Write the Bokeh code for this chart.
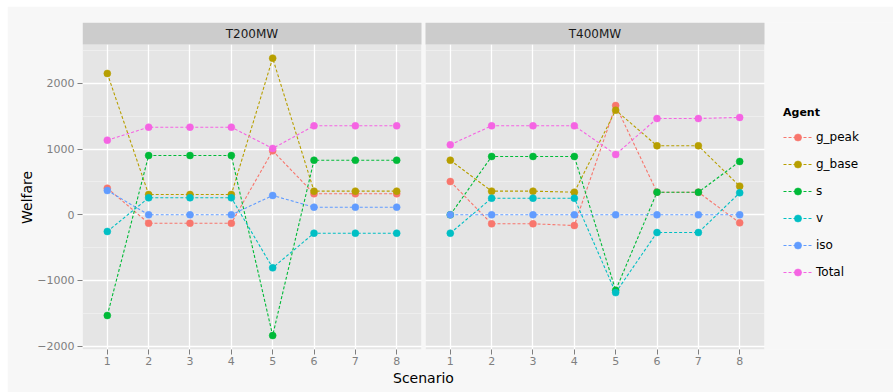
from bokeh.plotting import figure
from bokeh.models import (Range1d, FixedTicker, Legend, LegendItem, ColumnDataSource, Grid,
                          BoxAnnotation, Label, Title, CustomJSTickFormatter)
from bokeh.embed import file_html
from bokeh.resources import INLINE

# ---------------- data ----------------
scenarios = [1, 2, 3, 4, 5, 6, 7, 8]
agents = ["g_peak", "g_base", "s", "v", "iso", "Total"]
colors = ["#F8766D", "#B79F00", "#00BA38", "#00BFC4", "#619CFF", "#F564E3"]
panel_names = ["T200MW", "T400MW"]

t200_g_peak = [405, -128, -128, -128, 975, 320, 320, 320]
t200_g_base = [2152, 309, 309, 309, 2385, 360, 360, 360]
t200_s = [-1533, 903, 903, 903, -1838, 831, 831, 831]
t200_v = [-254, 259, 259, 259, -807, -280, -280, -280]
t200_iso = [370, 0, 0, 0, 294, 116, 116, 116]
t200_total = [1136, 1334, 1334, 1334, 1010, 1355, 1355, 1355]

t400_g_peak = [507, -137, -137, -163, 1664, 344, 344, -122]
t400_g_base = [831, 360, 360, 344, 1593, 1051, 1051, 436]
t400_s = [0, 888, 888, 888, -1150, 344, 344, 812]
t400_v = [-280, 253, 253, 253, -1185, -270, -270, 335]
t400_iso = [0, 0, 0, 0, 0, 0, 0, 0]
t400_total = [1066, 1355, 1355, 1355, 918, 1466, 1466, 1482]

y_ticks = [-2000, -1000, 0, 1000, 2000]
y_tick_labels = ["\u22122000", "\u22121000", "0", "1000", "2000"]
y_minor = [-1500, -500, 500, 1500, 2500]

series = [
    [t200_g_peak, t200_g_base, t200_s, t200_v, t200_iso, t200_total],
    [t400_g_peak, t400_g_base, t400_s, t400_v, t400_iso, t400_total],
]

# ---------------- style / layout ----------------
FONT = "DejaVu Sans"
OUTER = "#F7F7F7"
PANEL = "#E5E5E5"
STRIP = "#CCCCCC"
TICKC = "#7F7F7F"

MARGIN_TOP, MARGIN_LEFT = 6, 7
W, H = 893 - MARGIN_LEFT, 392 - MARGIN_TOP
LEFT, RIGHT, TOP, BOTTOM = 75, 0, 16, 43
PW = 339            # panel width in px
GAP = 4             # gap between panels in px
FRAME_W = W - LEFT - RIGHT
FRAME_H = H - TOP - BOTTOM
STRIP_H = 22

X_LO, X_HI = 0.4, 8.6
ppu = PW / (X_HI - X_LO)                      # px per x unit
off = (PW + GAP) / ppu                        # x shift of panel 2 in main range
x_main = (X_LO, X_LO + FRAME_W / ppu)
x_p2 = (X_LO - off, X_LO - off + FRAME_W / ppu)

Y_LO, STRIP_LO = -2051, 2593                  # panel y-limits
ypp = (STRIP_LO - Y_LO) / (FRAME_H - STRIP_H)  # units per px
Y_HI = STRIP_LO + STRIP_H * ypp

p = figure(width=W, height=H, x_range=Range1d(*x_main), y_range=Range1d(Y_LO, Y_HI),
           output_backend="svg", toolbar_location=None, title_location=None,
           min_border_left=LEFT, min_border_right=RIGHT,
           min_border_top=TOP, min_border_bottom=BOTTOM)
p.margin = (MARGIN_TOP, 0, 0, MARGIN_LEFT)
p.extra_x_ranges = {"p2": Range1d(*x_p2)}
p.background_fill_color = OUTER
p.border_fill_color = OUTER
p.outline_line_color = None
p.grid.visible = False

# panel backgrounds
p.add_layout(BoxAnnotation(right=X_HI, top=STRIP_LO, fill_color=PANEL, fill_alpha=1,
                           line_color=None, level="image"))
p.add_layout(BoxAnnotation(left=X_LO, right=X_HI, top=STRIP_LO, x_range_name="p2",
                           fill_color=PANEL, fill_alpha=1, line_color=None, level="image"))

# grids
all_x_ticks = scenarios + [s + off for s in scenarios]
p.add_layout(Grid(dimension=1, ticker=FixedTicker(ticks=y_ticks, minor_ticks=y_minor),
                  grid_line_color="white", grid_line_width=1.3,
                  minor_grid_line_color="#F2F2F2", minor_grid_line_width=0.7), "center")
p.add_layout(Grid(dimension=0, ticker=FixedTicker(ticks=all_x_ticks),
                  grid_line_color="white", grid_line_width=1.3), "center")

# axes
xa = p.xaxis[0]
xa.ticker = FixedTicker(ticks=all_x_ticks)
xa.formatter = CustomJSTickFormatter(
    code=f"return String(Math.round(tick > {X_HI + 0.05} ? tick - {off} : tick));")
xa.axis_line_color = None
xa.major_tick_line_color = TICKC
xa.major_tick_out = 5
xa.major_tick_in = 0
xa.minor_tick_line_color = None
xa.major_label_text_font = FONT
xa.major_label_text_font_size = "11px"
xa.major_label_text_color = TICKC
xa.major_label_standoff = 2

ya = p.yaxis[0]
ya.ticker = FixedTicker(ticks=y_ticks)
ya.major_label_overrides = {t: l for t, l in zip(y_ticks, y_tick_labels)}
ya.axis_line_color = None
ya.major_tick_line_color = TICKC
ya.major_tick_out = 5
ya.major_tick_in = 0
ya.minor_tick_line_color = None
ya.major_label_text_font = FONT
ya.major_label_text_font_size = "11px"
ya.major_label_text_color = TICKC
ya.major_label_standoff = 3

# axis titles, centred on the panels (align="left" + offset; text widths approx.)
TITLE_PX = 14
welfare_w = 54      # approx. rendered width of "Welfare" at 14px
scenario_w = 61     # approx. rendered width of "Scenario" at 14px
panels_cx = (2 * PW + GAP) / 2                 # from frame left
panels_cy_from_bottom = (FRAME_H - STRIP_H) / 2
p.add_layout(Title(text="Welfare", align="left", offset=panels_cy_from_bottom - welfare_w / 2,
                   standoff=0, text_font=FONT, text_font_size=f"{TITLE_PX}px",
                   text_font_style="normal", text_color="black"), "left")
p.add_layout(Title(text="Scenario", align="left", offset=panels_cx - scenario_w / 2,
                   standoff=0, text_font=FONT, text_font_size=f"{TITLE_PX}px",
                   text_font_style="normal", text_color="black"), "below")

# data
range_names = ["default", "p2"]
lines, points = [[], []], [[], []]
for k in range(2):
    for vals, col in zip(series[k], colors):
        src = ColumnDataSource(dict(x=scenarios, y=vals))
        lines[k].append(p.line("x", "y", source=src, line_color=col, line_width=1.1,
                               line_dash="3 2", x_range_name=range_names[k]))
for k in range(2):
    for vals, col in zip(series[k], colors):
        src = ColumnDataSource(dict(x=scenarios, y=vals))
        points[k].append(p.scatter("x", "y", source=src, size=7, fill_color=col,
                                   line_color=col, line_width=0.5,
                                   x_range_name=range_names[k]))

# cover gap between panels and the area right of panel 2
p.add_layout(BoxAnnotation(left=X_HI, right=X_LO + off, fill_color=OUTER, fill_alpha=1,
                           line_color=None, level="annotation"))
p.add_layout(BoxAnnotation(left=X_HI, x_range_name="p2", fill_color=OUTER, fill_alpha=1,
                           line_color=None, level="annotation"))
# strips
p.add_layout(BoxAnnotation(right=X_HI, bottom=STRIP_LO, fill_color=STRIP, fill_alpha=1,
                           line_color=None, level="annotation"))
p.add_layout(BoxAnnotation(left=X_LO, right=X_HI, bottom=STRIP_LO, x_range_name="p2",
                           fill_color=STRIP, fill_alpha=1, line_color=None, level="annotation"))
strip_mid = (STRIP_LO + Y_HI) / 2
for name, rn in zip(panel_names, range_names):
    p.add_layout(Label(x=(X_LO + X_HI) / 2, y=strip_mid, x_range_name=rn, text=name,
                       text_align="center", text_baseline="middle", text_font=FONT,
                       text_font_size="12px", text_color="#1A1A1A"))

# legend (inside the frame, right of panel 2)
items = [LegendItem(label=a, renderers=[l, pt]) for a, l, pt in zip(agents, lines[1], points[1])]
legend = Legend(items=items, title="Agent", location=(2 * PW + GAP + 19, 68))
legend.title_text_font = FONT
legend.title_text_font_size = "11px"
legend.title_text_font_style = "bold"
legend.title_text_color = "black"
legend.title_standoff = 9
legend.label_text_font = FONT
legend.label_text_font_size = "12px"
legend.label_text_color = "black"
legend.glyph_width = 29
legend.glyph_height = 18
legend.label_height = 18
legend.label_standoff = 4
legend.spacing = 9
legend.padding = 5
legend.margin = 0
legend.border_line_color = None
legend.background_fill_alpha = 0
p.add_layout(legend)

open("out.html", "w").write(file_html(p, INLINE))
